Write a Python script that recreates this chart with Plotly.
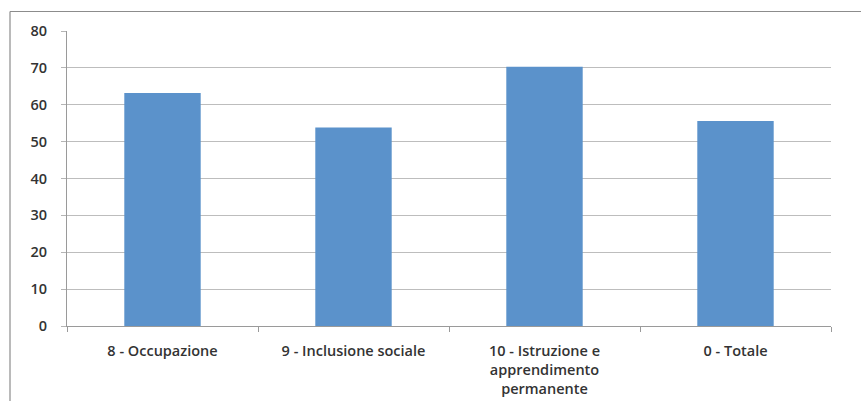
import plotly.graph_objects as go

# Indicator values by thematic objective
categories = [
    "8 - Occupazione",
    "9 - Inclusione sociale",
    "10 - Istruzione e<br>apprendimento<br>permanente",
    "0 - Totale",
]
values = [63.2, 53.8, 70.3, 55.6]
y_ticks = [0, 10, 20, 30, 40, 50, 60, 70, 80]

W, H = 861, 401
L, R, T, B = 67, 30, 31, 75
pw, ph = W - L - R, H - T - B


def px_x(px):
    return (px - L) / pw


def px_y(py):
    return (H - B - py) / ph


fig = go.Figure(
    go.Bar(
        x=categories,
        y=values,
        width=0.4,
        marker=dict(color="#5b92cb", line=dict(width=0)),
    )
)

axis_font = dict(family="Open Sans, Arial, sans-serif", size=14.5,
                 color="#333333", weight=600)

fig.update_layout(
    width=W,
    height=H,
    margin=dict(l=L, r=R, t=T, b=B),
    paper_bgcolor="white",
    plot_bgcolor="white",
    showlegend=False,
    xaxis=dict(
        type="category",
        automargin=False,
        tickson="boundaries",
        ticks="outside",
        ticklen=5,
        tickcolor="#9a9a9a",
        showline=True,
        linecolor="#9a9a9a",
        linewidth=1,
        showgrid=False,
        tickfont=axis_font,
        ticklabelstandoff=12,
    ),
    yaxis=dict(
        range=[0, 80],
        automargin=False,
        tickvals=y_ticks,
        ticks="outside",
        ticklen=5,
        tickcolor="#b5b5b5",
        showline=True,
        linecolor="#9a9a9a",
        linewidth=1,
        gridcolor="#bdbdbd",
        gridwidth=1,
        zeroline=False,
        tickfont=axis_font,
        ticklabelstandoff=11,
    ),
    shapes=[
        # outer chart frame (top and left edges)
        dict(type="line", xref="paper", yref="paper",
             x0=px_x(10), x1=px_x(W), y0=px_y(11.5), y1=px_y(11.5),
             line=dict(color="#8c8c8c", width=1.2)),
        dict(type="line", xref="paper", yref="paper",
             x0=px_x(10), x1=px_x(10), y0=px_y(11.5), y1=px_y(H),
             line=dict(color="#8c8c8c", width=1.2)),
    ],
)

fig.write_html("out.html")
